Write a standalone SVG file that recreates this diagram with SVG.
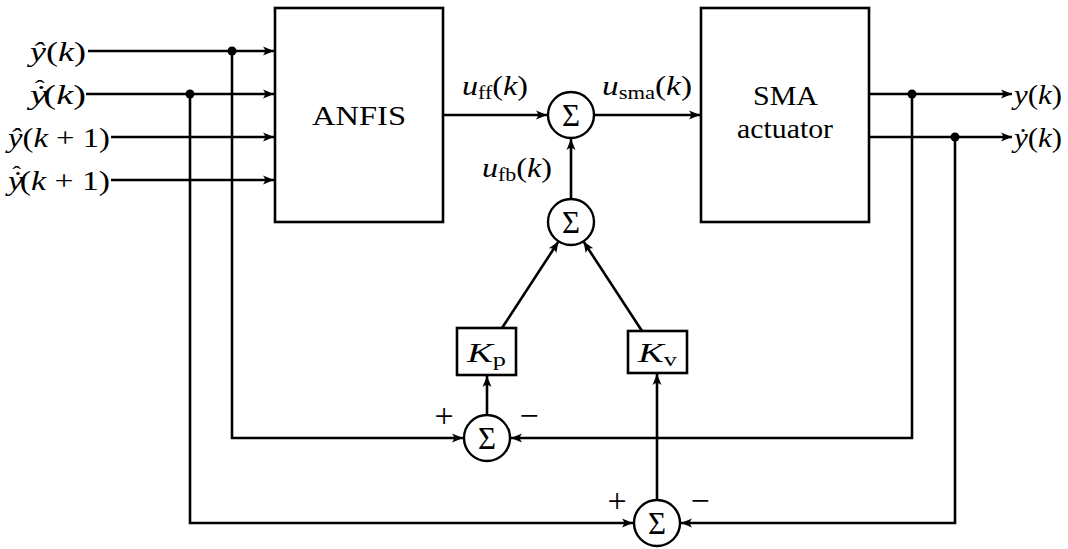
<svg xmlns="http://www.w3.org/2000/svg" width="1068" height="549" viewBox="0 0 1068 549">
  <style>
    .box { fill: #fff; stroke: #000; stroke-width: 2.6; }
    .sum { fill: #fff; stroke: #000; stroke-width: 2.4; }
    .wire { fill: none; stroke: #000; stroke-width: 2.6; }
    .arr { marker-end: url(#head); }
    .t { font-family: "Liberation Serif", "DejaVu Serif", serif; font-size: 28px; fill: #000; }
    .m { font-style: italic; }
    .s { font-size: 19px; font-style: normal; }
    .hat { font-size: 22px; font-style: normal; }
    .sig { font-family: "Liberation Serif", "DejaVu Serif", serif; font-size: 31px; text-anchor: middle; fill: #000; }
    .pm { font-family: "Liberation Serif", "DejaVu Serif", serif; font-size: 34px; text-anchor: middle; fill: #000; }
  </style>
  <defs>
    <marker id="head" viewBox="-12 -6 13 12" refX="0" refY="0" markerWidth="13" markerHeight="12" markerUnits="userSpaceOnUse" orient="auto">
      <path d="M0,0 L-11,-4.5 Q-7,0 -11,4.5 Z" fill="#000"/>
    </marker>
  </defs>

  <!-- connectors -->
  <g id="connectors">
    <path class="wire arr" d="M88,51 H274"/>
    <path class="wire arr" d="M86,94 H274"/>
    <path class="wire arr" d="M111,137 H274"/>
    <path class="wire arr" d="M111,180 H274"/>
    <path class="wire arr" d="M232,51 V438 H463"/>
    <path class="wire arr" d="M190,94 V523 H633"/>
    <path class="wire arr" d="M443,115 H547"/>
    <path class="wire arr" d="M594,115 H700"/>
    <path class="wire arr" d="M571,199 V139"/>
    <path class="wire arr" d="M502,328 L558.5,241.5"/>
    <path class="wire arr" d="M642,331 L583.5,241.5"/>
    <path class="wire arr" d="M487,415 V376"/>
    <path class="wire arr" d="M657,500 V374"/>
    <path class="wire arr" d="M869,94 H1012"/>
    <path class="wire arr" d="M869,137 H1012"/>
    <path class="wire arr" d="M912,94 V438 H511"/>
    <path class="wire arr" d="M955,137 V523 H681"/>
    <circle cx="232" cy="51" r="4.5"/>
    <circle cx="190" cy="94" r="4.5"/>
    <circle cx="912" cy="94" r="4.5"/>
    <circle cx="955" cy="137" r="4.5"/>
  </g>

  <!-- input signal labels -->
  <g id="inputs">
    <text class="t" x="30" y="61" textLength="56" lengthAdjust="spacingAndGlyphs"><tspan class="m">ŷ</tspan>(<tspan class="m">k</tspan>)</text>
    <text class="t" x="30" y="104" textLength="56" lengthAdjust="spacingAndGlyphs"><tspan class="m">ẏ</tspan><tspan class="hat" dx="-9" dy="-9">ˆ</tspan><tspan dx="-1" dy="9">(</tspan><tspan class="m">k</tspan>)</text>
    <text class="t" x="8" y="147" textLength="102" lengthAdjust="spacingAndGlyphs"><tspan class="m">ŷ</tspan>(<tspan class="m">k</tspan> + 1)</text>
    <text class="t" x="8" y="190" textLength="102" lengthAdjust="spacingAndGlyphs"><tspan class="m">ẏ</tspan><tspan class="hat" dx="-9" dy="-9">ˆ</tspan><tspan dx="-1" dy="9">(</tspan><tspan class="m">k</tspan> + 1)</text>
  </g>

  <g id="anfis">
    <rect class="box" x="275" y="8" width="168" height="214"/>
    <text class="t" x="312" y="125" textLength="94" lengthAdjust="spacingAndGlyphs">ANFIS</text>
  </g>

  <g id="sma">
    <rect class="box" x="701" y="8" width="168" height="214"/>
    <text class="t" x="753" y="105" textLength="65" lengthAdjust="spacingAndGlyphs">SMA</text>
    <text class="t" x="737" y="138" textLength="96" lengthAdjust="spacingAndGlyphs">actuator</text>
  </g>

  <g id="sum-main">
    <circle class="sum" cx="571" cy="115" r="23"/>
    <text class="sig" x="571" y="126">Σ</text>
  </g>
  <g id="sum-fb">
    <circle class="sum" cx="571" cy="222" r="23"/>
    <text class="sig" x="571" y="233">Σ</text>
  </g>
  <g id="sum-pos">
    <circle class="sum" cx="487" cy="438" r="23"/>
    <text class="sig" x="487" y="449">Σ</text>
    <text class="pm" x="444" y="427">+</text>
    <text class="pm" x="529" y="427">−</text>
  </g>
  <g id="sum-vel">
    <circle class="sum" cx="657" cy="523" r="23"/>
    <text class="sig" x="657" y="534">Σ</text>
    <text class="pm" x="617" y="512">+</text>
    <text class="pm" x="700" y="512">−</text>
  </g>

  <g id="kp">
    <rect class="box" x="457" y="328" width="59" height="47"/>
    <text class="t" x="467" y="362" textLength="39" lengthAdjust="spacingAndGlyphs"><tspan class="m">K</tspan><tspan class="s" dy="4">p</tspan></text>
  </g>
  <g id="kv">
    <rect class="box" x="628" y="331" width="59" height="42"/>
    <text class="t" x="638" y="362" textLength="39" lengthAdjust="spacingAndGlyphs"><tspan class="m">K</tspan><tspan class="s" dy="4">v</tspan></text>
  </g>

  <!-- signal labels -->
  <g id="labels">
    <text class="t" x="462" y="95" textLength="66" lengthAdjust="spacingAndGlyphs"><tspan class="m">u</tspan><tspan class="s" dy="4">ff</tspan><tspan dy="-4">(</tspan><tspan class="m">k</tspan>)</text>
    <text class="t" x="602" y="95" textLength="90" lengthAdjust="spacingAndGlyphs"><tspan class="m">u</tspan><tspan class="s" dy="4">sma</tspan><tspan dy="-4">(</tspan><tspan class="m">k</tspan>)</text>
    <text class="t" x="482" y="177" textLength="70" lengthAdjust="spacingAndGlyphs"><tspan class="m">u</tspan><tspan class="s" dy="4">fb</tspan><tspan dy="-4">(</tspan><tspan class="m">k</tspan>)</text>
    <text class="t" x="1014" y="104" textLength="48" lengthAdjust="spacingAndGlyphs"><tspan class="m">y</tspan>(<tspan class="m">k</tspan>)</text>
    <text class="t" x="1014" y="147" textLength="48" lengthAdjust="spacingAndGlyphs"><tspan class="m">ẏ</tspan>(<tspan class="m">k</tspan>)</text>
  </g>
</svg>
